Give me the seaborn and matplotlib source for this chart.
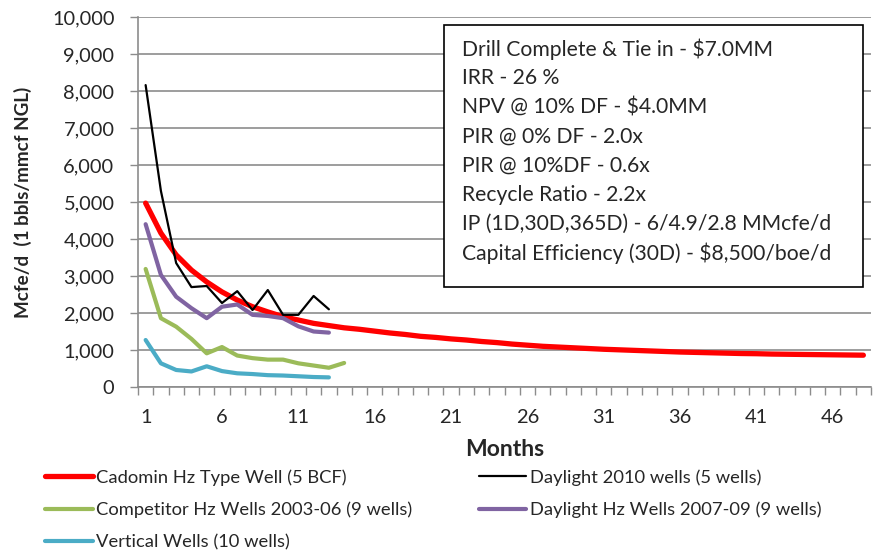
import numpy as np
import pandas as pd
import matplotlib
matplotlib.use("Agg")
import matplotlib.pyplot as plt
import seaborn as sns

# ---- data ----
months_all = list(range(1, 49))
cadomin = [4970, 4160, 3570, 3160, 2840, 2570, 2350, 2170, 2030, 1900, 1810, 1720,
           1660, 1600, 1560, 1510, 1460, 1420, 1370, 1340, 1300, 1270, 1230, 1200,
           1160, 1130, 1100, 1080, 1060, 1040, 1020, 1005, 990, 975, 960, 945,
           935, 925, 915, 905, 900, 890, 885, 880, 875, 870, 865, 860]
months_13 = list(range(1, 14))
daylight_2010 = [8160, 5300, 3350, 2700, 2730, 2270, 2590, 2080, 2620, 1950, 1950, 2460, 2100]
daylight_hz = [4400, 3030, 2440, 2130, 1860, 2170, 2230, 1950, 1920, 1860, 1640, 1500, 1470]
months_14 = list(range(1, 15))
competitor = [3190, 1860, 1630, 1300, 910, 1080, 850, 780, 740, 740, 640, 580, 520, 650]
vertical = [1270, 640, 460, 420, 560, 430, 370, 350, 320, 310, 290, 270, 260]

series_names = ["Cadomin Hz Type Well (5 BCF)", "Daylight 2010 wells (5 wells)",
                "Competitor Hz Wells 2003-06 (9 wells)", "Daylight Hz Wells 2007-09 (9 wells)",
                "Vertical Wells (10 wells)"]
x_tick_labels = [str(m) for m in range(1, 49, 5)]
y_ticks = list(range(0, 10001, 1000))
box_lines = ["Drill Complete & Tie in - $7.0MM", "IRR - 26 %", "NPV @ 10% DF - $4.0MM",
             "PIR @ 0% DF - 2.0x", "PIR @ 10%DF - 0.6x", "Recycle Ratio - 2.2x",
             "IP (1D,30D,365D) - 6/4.9/2.8 MMcfe/d", "Capital Efficiency (30D) - $8,500/boe/d"]

sns.set_theme(style="white")
plt.rcParams['font.family'] = ['Lato', 'DejaVu Sans']

fig = plt.figure(figsize=(8.75, 5.55), dpi=100)
ax_left, ax_right = 138, 871
ax = fig.add_axes([ax_left/875, 1-387/555, (ax_right-ax_left)/875, (387-17)/555])

GRID = "#8c8c8c"
styles = [
    (months_all, cadomin, "#FF0000", 3.8),
    (months_13, daylight_2010, "#000000", 1.6),
    (months_14, competitor, "#9BBB59", 3.0),
    (months_13, daylight_hz, "#8064A2", 3.0),
    (months_13, vertical, "#4BACC6", 3.0),
]
handles = {}
for name, (xs, ys, col, lw) in zip(series_names, styles):
    df = pd.DataFrame({"Month": xs, "Value": ys})
    sns.lineplot(data=df, x="Month", y="Value", ax=ax, color=col, linewidth=lw,
                 label=name, solid_capstyle="round", legend=False, zorder=3)
    handles[name] = ax.lines[-1]

ax.set_xlim(0.5, 48.5)
ax.set_ylim(0, 10000)
ax.set_yticks(y_ticks)
ax.set_yticklabels([f"{v:,}" for v in y_ticks], fontsize=14.4)
ax.set_xticks(list(range(1, 49, 5)))
ax.set_xticklabels(x_tick_labels, fontsize=14.4)
ax.set_xticks(np.arange(0.5, 49, 1), minor=True)
ax.tick_params(axis="x", which="major", length=0, pad=16)
ax.tick_params(axis="x", which="minor", length=6, color=GRID, width=1, direction="out", bottom=True)
ax.tick_params(axis="y", which="major", length=6, color=GRID, width=1, direction="out", left=True, pad=11)
ax.grid(axis="y", color=GRID, linewidth=1.2, zorder=0)
ax.grid(axis="x", visible=False)
for s in ["top", "right"]:
    ax.spines[s].set_visible(False)
for s in ["left", "bottom"]:
    ax.spines[s].set_color(GRID)
    ax.spines[s].set_linewidth(1.2)

ax.set_xlabel("Months", fontsize=16.5, fontweight="bold", labelpad=9)
ax.set_ylabel("Mcfe/d  (1 bbls/mmcf NGL)", fontsize=13.6, fontweight="bold")
ax.yaxis.set_label_coords((32-ax_left)/(ax_right-ax_left), 0.5)

# text box
from matplotlib.patches import Rectangle
fig.patches.append(Rectangle((444/875, 1-287/555), (863-444)/875, (287-25)/555,
                             transform=fig.transFigure, facecolor="white",
                             edgecolor="black", linewidth=1.2, zorder=5))
for i, line in enumerate(box_lines):
    fig.text(462/875, 1-(49+29.2*i)/555, line, fontsize=15.2, va="center", ha="left", zorder=6)

order = [series_names[0], series_names[2], series_names[4], series_names[1], series_names[3]]
leg = fig.legend([handles[n] for n in order], order, ncol=2, loc="upper left",
                 bbox_to_anchor=(45/875, 1-469/555), frameon=False, fontsize=13.2,
                 handlelength=2.6, handletextpad=0.2, columnspacing=3.6,
                 labelspacing=0.88, borderaxespad=0, borderpad=0)

fig.savefig("out.png", dpi=100)
